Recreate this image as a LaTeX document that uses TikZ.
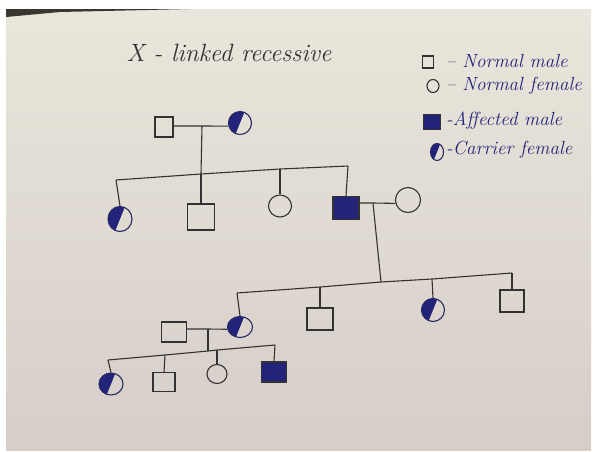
\documentclass[tikz,border=0pt]{standalone}
\usetikzlibrary{shapes.geometric}
\definecolor{ink}{HTML}{333131}
\definecolor{blueink}{HTML}{23237A}
\definecolor{paperT}{HTML}{E9E6DB}
\definecolor{paperM}{HTML}{EEEBE3}
\definecolor{paperB}{HTML}{D6CEC9}
\definecolor{band}{HTML}{3B3630}
\tikzset{
  pen/.style={draw=ink, line width=1.1pt},
  male/.style={pen, rectangle, inner sep=0pt},
  female/.style={pen, ellipse, inner sep=0pt},
  affected/.style={male, fill=blueink},
  carrier/.style={female, draw=blueink!70!ink, path picture={
      \fill[blueink] ([shift={(68:30pt)}]path picture bounding box.center) --
        ([shift={(248:30pt)}]path picture bounding box.center) --
        ([shift={(158:30pt)}]path picture bounding box.center) -- cycle;}},
  line/.style={pen},
  legtext/.style={text=blueink, font=\itshape\fontsize{19}{21}\selectfont, anchor=west, inner sep=0pt},
}
\begin{document}
\begin{tikzpicture}[x=1pt,y=-1pt]
\useasboundingbox (0,0) rectangle (595,451);
\fill[white] (0,0) rectangle (595,451);
\shade[top color=paperT, middle color=paperM, bottom color=paperB] (6,9) rectangle (591,450);
\fill[band] (6,9) -- (190,9) -- (60,12) -- (6,17) -- cycle;

% title
\node[text=ink, font=\itshape\fontsize{25}{27}\selectfont, inner sep=0pt] (title) at (229,53) {X - linked recessive};

% legend
\node[male, minimum width=11pt, minimum height=12pt] (lm) at (428,62) {};
\node[legtext] (lmt) at (446,61) {-- Normal male};
\node[female, minimum width=12pt, minimum height=13pt] (lf) at (433,86) {};
\node[legtext] (lft) at (446,86) {-- Normal female};
\node[affected, minimum width=17pt, minimum height=15pt] (la) at (432,122) {};
\node[legtext] (lat) at (446,121) {-Affected male};
\node[carrier, minimum width=13pt, minimum height=17pt] (lc) at (437,152) {};
\node[legtext] (lct) at (446,150) {-Carrier female};

% generation I
\node[male, minimum width=18pt, minimum height=20pt] (g1m) at (164,127) {};
\node[carrier, minimum width=23pt, minimum height=23pt] (g1f) at (240,123) {};
\coordinate (j1) at (202,126);
\draw[line] (g1m.east |- j1) -- (j1) -- (g1f.195);

% generation II
\coordinate (s1a) at (116,180);
\coordinate (s1b) at (201,174);
\coordinate (s1c) at (280,169);
\coordinate (s1d) at (348,166);
\draw[line] (j1) -- (s1b);
\draw[line] (s1a) -- (s1b) -- (s1c) -- (s1d);
\node[carrier, minimum width=24pt, minimum height=25pt] (g2a) at (120,219) {};
\node[male, minimum width=27pt, minimum height=26pt] (g2b) at (201,217) {};
\node[female, minimum width=23pt, minimum height=22pt] (g2c) at (280,206) {};
\node[affected, minimum width=26pt, minimum height=23pt] (g2d) at (346,208) {};
\node[female, minimum width=25pt, minimum height=25pt] (g2w) at (408,200) {};
\draw[line] (s1a) -- (g2a.north);
\draw[line] (s1b) -- (g2b.north);
\draw[line] (s1c) -- (g2c.north);
\draw[line] (s1d) -- (g2d.north);
\coordinate (j2) at (373,203);
\draw[line] (g2d.east |- j2) -- (j2) -- (g2w.195);

% generation III
\coordinate (s2a) at (237,293);
\coordinate (s2b) at (320,287);
\coordinate (s2c) at (381,282);
\coordinate (s2d) at (432,279);
\coordinate (s2e) at (512,273);
\draw[line] (j2) -- (s2c);
\draw[line] (s2a) -- (s2b) -- (s2c) -- (s2d) -- (s2e);
\node[carrier, minimum width=25pt, minimum height=21pt] (g3a) at (240,327) {};
\node[male, minimum width=26pt, minimum height=22pt] (g3b) at (320,319) {};
\node[carrier, minimum width=23pt, minimum height=23pt] (g3c) at (433,310) {};
\node[male, minimum width=24pt, minimum height=22pt] (g3d) at (512,301) {};
\draw[line] (s2a) -- (g3a.north);
\draw[line] (s2b) -- (g3b.north);
\draw[line] (s2d) -- (g3c.north);
\draw[line] (s2e) -- (g3d.north);
\node[male, minimum width=25pt, minimum height=20pt] (g3s) at (174,332) {};
\coordinate (j3) at (208,329);
\draw[line] (g3s.east |- j3) -- (j3) -- (g3a.190);

% generation IV
\coordinate (s3a) at (108,360);
\coordinate (s3b) at (165,355);
\coordinate (s3c) at (208,351);
\coordinate (s3d) at (217,350);
\coordinate (s3e) at (275,345);
\draw[line] (j3) -- (s3c);
\draw[line] (s3a) -- (s3b) -- (s3c) -- (s3d) -- (s3e);
\node[carrier, minimum width=24pt, minimum height=22pt] (g4a) at (111,384) {};
\node[male, minimum width=22pt, minimum height=19pt] (g4b) at (164,382) {};
\node[female, minimum width=20pt, minimum height=19pt] (g4c) at (217,374) {};
\node[affected, minimum width=25pt, minimum height=20pt] (g4d) at (274,372) {};
\draw[line] (s3a) -- (g4a.north);
\draw[line] (s3b) -- (g4b.north);
\draw[line] (s3d) -- (g4c.north);
\draw[line] (s3e) -- (g4d.north);
\end{tikzpicture}
\end{document}
